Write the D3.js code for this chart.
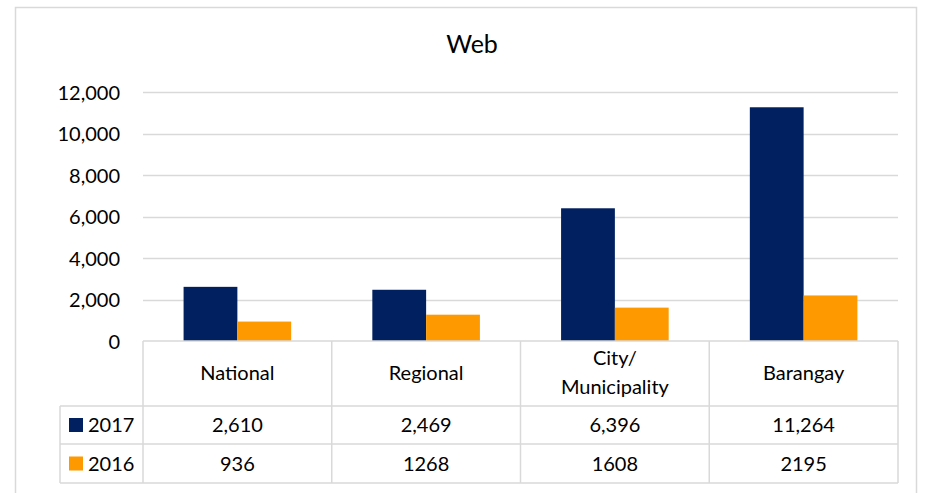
<!DOCTYPE html>
<html><head><meta charset="utf-8">
<script src="https://cdn.jsdelivr.net/npm/d3@7"></script>
<style>
body{margin:0;background:#fff;}
svg text{font-family:Lato,"Open Sans",sans-serif;fill:#000;}
</style></head>
<body><svg id="c" width="931" height="493"></svg>
<script>
const title = "Web";
const categories = [["National"],["Regional"],["City/","Municipality"],["Barangay"]];
const seriesNames = ["2017","2016"];
const values2017 = [2610,2469,6396,11264];
const values2016 = [936,1268,1608,2195];
const labels2017 = ["2,610","2,469","6,396","11,264"];
const labels2016 = ["936","1268","1608","2195"];
const yTicks = [0,2000,4000,6000,8000,10000,12000];
const colors = ["#002060","#FF9900"];

const svg = d3.select("#c");
const grid = "#d9d9d9";
const fs = 20;
// outer frame
svg.append("path").attr("d","M15.5,493 V7.5 H916.5 V493").attr("fill","none").attr("stroke","#d9d9d9").attr("stroke-width",1.5);

const x0 = 143, x1 = 898, yTop = 92, yBase = 341;
const y = d3.scaleLinear().domain([0,12000]).range([yBase,yTop]);
const x = d3.scaleBand().domain(d3.range(categories.length)).range([x0,x1]).paddingInner(0).paddingOuter(0);

svg.append("text").attr("x",472).attr("y",53).attr("text-anchor","middle").attr("font-size",25).text(title);

// grid
const g = svg.append("g");
g.selectAll("line.grid").data(yTicks.filter(d=>d>0)).join("line")
 .attr("x1",x0).attr("x2",x1).attr("y1",d=>Math.round(y(d))+0.5).attr("y2",d=>Math.round(y(d))+0.5)
 .attr("stroke",grid).attr("stroke-width",1.5);

const yAxis = d3.axisLeft(y).tickValues(yTicks).tickFormat(d3.format(",")).tickSize(0).tickPadding(0);
const ya = svg.append("g").attr("transform","translate(120,0)").call(yAxis);
ya.select(".domain").remove();
ya.selectAll("text").attr("font-size",fs).attr("dy","0.35em").style("font-family","Lato,'Open Sans',sans-serif").attr("fill","#000");

// bars
const data = [values2017, values2016];
const bw = x.bandwidth()*0.285;
data.forEach((vals,si)=>{
  svg.append("g").selectAll("rect").data(vals).join("rect")
   .attr("x",(d,i)=>x(i)+x.bandwidth()/2 - bw + si*bw)
   .attr("width",bw)
   .attr("y",d=>y(d)).attr("height",d=>yBase-y(d))
   .attr("fill",colors[si]);
});

// table
const rowTop = yBase, rowCat = 406, row1 = 444, row2 = 483, legL = 60;
const t = svg.append("g").attr("stroke",grid).attr("stroke-width",1.5).attr("fill","none");
t.append("line").attr("x1",x0).attr("x2",x1).attr("y1",rowTop).attr("y2",rowTop);
[rowCat,row1,row2].forEach(yy=>t.append("line").attr("x1",legL).attr("x2",x1).attr("y1",yy).attr("y2",yy));
d3.range(categories.length+1).forEach(i=>{
  const xx = i<categories.length ? x(i) : x1;
  t.append("line").attr("x1",xx).attr("x2",xx).attr("y1",rowTop).attr("y2",row2);
});
t.append("line").attr("x1",legL).attr("x2",legL).attr("y1",rowCat).attr("y2",row2);

// category labels
categories.forEach((lines,i)=>{
  const cx = x(i)+x.bandwidth()/2;
  const mid = (rowTop+rowCat)/2;
  const lh = 29;
  lines.forEach((s,k)=>{
    svg.append("text").attr("x",cx).attr("y",mid + 6 + (k-(lines.length-1)/2)*lh)
     .attr("text-anchor","middle").attr("font-size",fs).text(s);
  });
});
// data rows
const rowLabels = [labels2017, labels2016];
const rowMids = [(rowCat+row1)/2, (row1+row2)/2];
rowLabels.forEach((labs,si)=>{
  svg.append("rect").attr("x",69).attr("y",rowMids[si]-7).attr("width",14).attr("height",14).attr("fill",colors[si]);
  svg.append("text").attr("x",88).attr("y",rowMids[si]+7).attr("font-size",fs).text(seriesNames[si]);
  labs.forEach((s,i)=>{
    svg.append("text").attr("x",x(i)+x.bandwidth()/2).attr("y",rowMids[si]+7)
      .attr("text-anchor","middle").attr("font-size",fs).text(s);
  });
});
</script></body></html>
